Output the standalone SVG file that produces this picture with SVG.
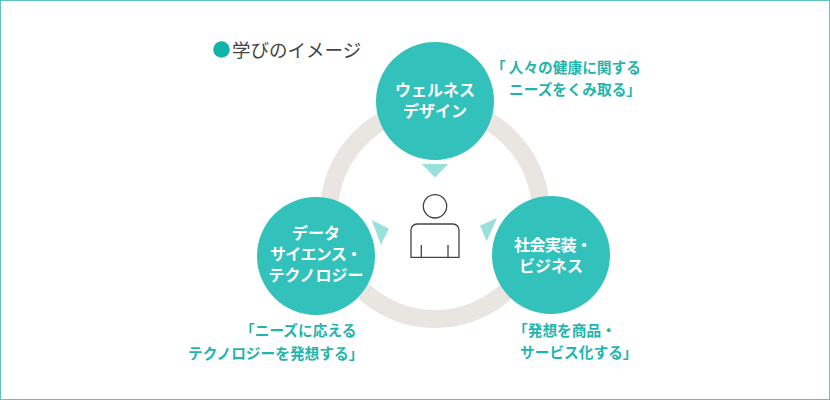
<svg xmlns="http://www.w3.org/2000/svg" width="830" height="400" viewBox="0 0 830 400">
<style>
text{font-family:"Noto Sans CJK JP","Noto Sans",sans-serif}
.n{font-size:16px;font-weight:700;fill:#fff;text-anchor:middle}
.c{font-size:14.700px;font-weight:700;fill:#1fb5ad}
.t{fill:#99e0dc}
.b{fill:#33c1bb}
.p{fill:none;stroke:#444;stroke-width:1.3}
</style>
<rect x="0.5" y="0.5" width="829" height="399" fill="#fff" stroke="#5fc4bf"/>
<g id="connectors">
<circle cx="435" cy="213" r="106" fill="none" stroke="#e9e6e1" stroke-width="18"/>
<polygon class="t" points="421.700,164 448.300,164 435,177.500"/>
<polygon class="t" points="371.700,220 389,228.700 381,244.700"/>
<polygon class="t" points="497,218 480,225.700 486.700,241.300"/>
</g>
<g id="title">
<circle cx="221.500" cy="49.500" r="8.300" fill="#0fb3aa"/>
<text x="232" y="57" font-size="18.500" fill="#444">学びのイメージ</text>
</g>
<g id="person">
<circle class="p" cx="435" cy="206.300" r="11.700"/>
<path class="p" d="M411 257.300V230a6 6 0 0 1 6-6h36a6 6 0 0 1 6 6v27.300zM421.300 245v12.300M448 245v12.300"/>
</g>
<g id="node-wellness">
<circle class="b" cx="435" cy="101" r="59"/>
<text class="n" x="435" y="96">ウェルネス</text>
<text class="n" x="435" y="117">デザイン</text>
</g>
<g id="node-data">
<circle class="b" cx="316" cy="256" r="59"/>
<text class="n" x="316" y="239">データ</text>
<text class="n" x="316" y="260" textLength="92">サイエンス・</text>
<text class="n" x="316" y="281">テクノロジー</text>
</g>
<g id="node-social">
<circle class="b" cx="551" cy="255" r="59"/>
<text class="n" x="553" y="251" textLength="78">社会実装・</text>
<text class="n" x="551" y="272">ビジネス</text>
</g>
<g id="caption-wellness">
<text class="c" x="491" y="73">「<tspan dx="3">人々の健康に関する</tspan></text>
<text class="c" x="509" y="95">ニーズをくみ取る」</text>
</g>
<g id="caption-data">
<text class="c" x="240" y="336">「ニーズに応える</text>
<text class="c" x="188" y="359">テクノロジーを発想する」</text>
</g>
<g id="caption-social">
<text class="c" x="513" y="336">「発想を商品・</text>
<text class="c" x="520" y="358">サービス化する」</text>
</g>
</svg>
